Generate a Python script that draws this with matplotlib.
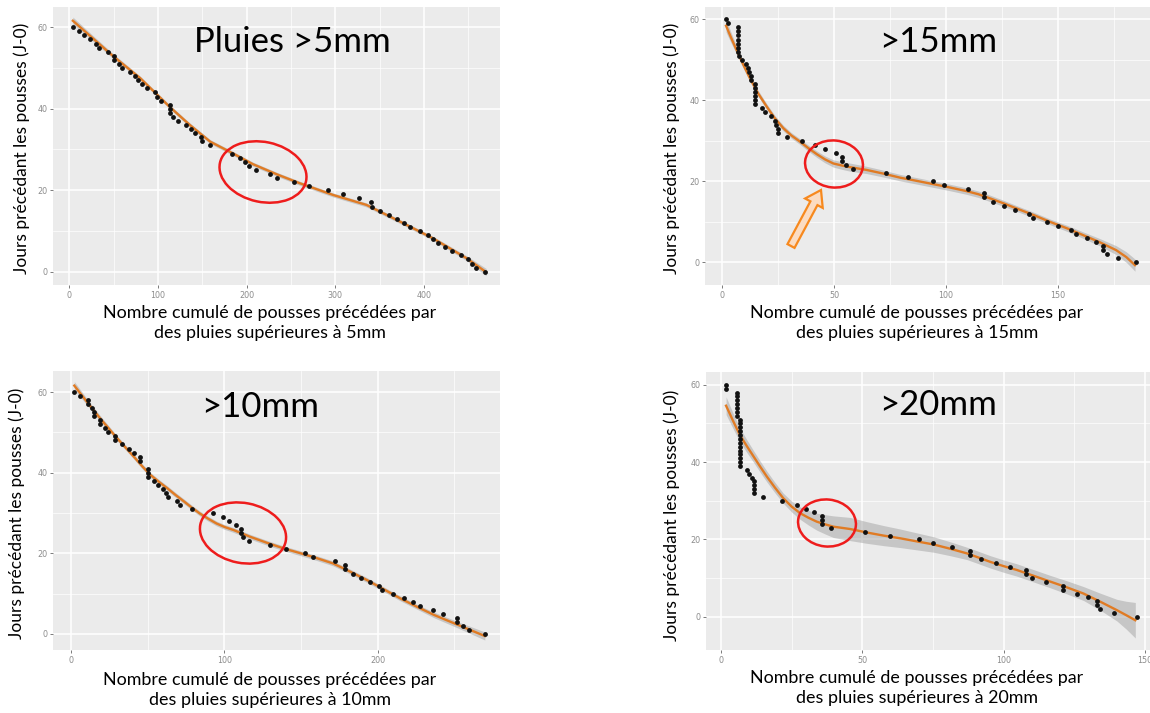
import matplotlib
matplotlib.use("Agg")
import matplotlib.pyplot as plt
from matplotlib.patches import Ellipse, FancyArrow

# --- données ----------------------------------------------------------
# >5mm
x5 = [4, 11, 17, 23, 30, 34, 44, 50, 50, 56, 59, 68, 74, 77, 82, 88, 97, 99, 103, 114,
      114, 114, 117, 123, 132, 137, 142, 148, 150, 159, 184, 192, 198, 203, 210, 226, 234, 253, 270, 292,
      309, 327, 340, 341, 350, 360, 369, 378, 384, 395, 404, 410, 416, 424, 432, 442, 450, 454, 459, 469]
y5 = [60, 59, 58, 57, 56, 55, 54, 53, 52, 51, 50, 49, 48, 47, 46, 45, 44, 43, 42, 41,
      40, 39, 38, 37, 36, 35, 34, 33, 32, 31, 29, 28, 27, 26, 25, 24, 23, 22, 21, 20,
      19, 18, 17, 16, 15, 14, 13, 12, 11, 10, 9, 8, 7, 6, 5, 4, 3, 2, 1, 0]
lx5 = [4, 27, 50, 80, 113, 136, 159, 184, 207, 234, 260, 298, 335, 373, 410, 448, 470]
ly5 = [61.6, 57.2, 52.8, 47.5, 40.5, 36, 31.9, 29.1, 26.4, 23.9, 21.7, 18.8, 16.4, 12.3, 8.2, 3.3, -0.1]
se5 = [0.9, 0.7, 0.6, 0.5, 0.5, 0.5, 0.5, 0.5, 0.5, 0.5, 0.5, 0.5, 0.5, 0.5, 0.5, 0.6, 0.9]

# >15mm
x15 = [1.8, 2.8, 7, 7, 7, 7, 7, 7, 7, 7.7, 8.8, 10.7, 11.8, 12.2, 12.9, 12.9,
       14.7, 14.7, 14.7, 14.7, 14.7, 14.7, 17.7, 19.2, 21.9, 23.7, 24.1, 24.9, 24.9, 28.9,
       35.8, 41.5, 46, 50.7, 53.7, 53.7, 55.2, 58.7, 73, 83, 94, 99, 110, 117, 117, 121, 126, 131,
       137, 139, 145, 150, 156, 158, 163, 167, 170, 170, 172, 177, 185]
y15 = list(range(60, -1, -1))
lx15 = [1.8, 4, 6.5, 9.5, 12.5, 16, 20, 23.5, 27.4, 31, 34.8, 38.5, 42.3, 46, 49.7, 53.5, 57.1,
        64.6, 72, 79.5, 87, 94.3, 101.5, 109, 114.5, 119.6, 125.5, 131.5, 139, 146.4, 154, 161.3,
        168.5, 176, 180.5, 184.4]
ly15 = [58.4, 55.5, 52.4, 48.8, 45.4, 41.8, 38.4, 35.6, 33.1, 31.3, 29.8, 28.2, 26.7, 25.4, 24.4,
        23.9, 23.5, 22.8, 21.9, 20.9, 20.1, 19.3, 18.5, 17.6, 16.8, 15.8, 14.6, 13.3, 11.7, 10,
        8.4, 6.7, 5, 3, 1.3, -0.7]
se15 = [1.6, 1.3, 1.0, 0.9, 0.8, 0.75, 0.7, 0.7, 0.7, 0.7, 0.7, 0.75, 0.8, 0.85, 0.9, 0.95, 1.0,
        0.9, 0.85, 0.8, 0.8, 0.8, 0.8, 0.8, 0.8, 0.8, 0.75, 0.7, 0.7, 0.7, 0.75, 0.8, 0.9, 1.1,
        1.3, 1.5]

# >10mm
x10 = [2, 6, 11, 11, 14, 15, 15, 19, 19, 22, 24, 29, 29, 33.5, 38, 41, 45, 45, 50, 50,
       50, 54, 57, 60, 62, 63, 69, 71, 79, 93, 99, 103, 108, 111, 111, 112, 116, 130, 140, 153,
       158, 172, 179, 179, 184, 189, 195, 201, 203, 210, 217, 223, 228, 236, 243, 252, 252, 256, 260, 270]
y10 = list(range(60, 42, -1)) + list(range(41, -1, -1))
lx10 = [2.2, 10, 19, 30, 41, 46.5, 52, 57.5, 63, 68.5, 74, 79, 84, 89.5, 95, 100.5, 106, 117, 128,
        139, 150, 160.5, 171, 182, 193, 204, 215, 226, 237, 253.5, 270]
ly10 = [61.6, 57.8, 53.5, 48.6, 44, 41.6, 39.4, 37.7, 36.1, 34.4, 32.8, 31.3, 29.9, 28.6, 27.4,
        26.5, 25.8, 24.1, 22.6, 21.2, 20, 18.8, 17.5, 15.5, 13.4, 11.1, 8.8, 6.7, 4.7, 2.1, -0.5]
se10 = [1.0, 0.8, 0.7, 0.6, 0.6, 0.6, 0.6, 0.6, 0.6, 0.6, 0.6, 0.6, 0.6, 0.6, 0.6, 0.6, 0.6, 0.6,
        0.6, 0.6, 0.6, 0.6, 0.6, 0.6, 0.6, 0.6, 0.6, 0.6, 0.7, 0.8, 1.0]

# >20mm
x20 = [1.8, 1.8, 5.8, 5.8, 5.8, 5.8, 5.8, 5.8, 5.8,
       6.8, 6.8, 6.8, 6.8, 6.8, 6.8, 6.8, 6.8, 6.8, 6.8, 6.8, 6.8, 6.8,
       9.1, 10, 10.9, 11.8, 11.8, 11.8, 11.8,
       14.8, 21.7, 26.8, 30, 32.8, 35.9, 35.9, 35.9, 39, 50.8, 59.9, 69.9, 75, 81.9, 88, 88, 92,
       97.2, 102.2, 108.1, 108.1, 110, 115, 121, 121, 126, 130, 133, 133, 134, 139, 147.2]
y20 = list(range(60, -1, -1))
lx20 = [1.8, 4.2, 6.7, 9.1, 11.5, 13.9, 16.2, 19.1, 22, 25, 28, 31, 33.9, 36.9, 39.8, 42.8, 45.7,
        51.6, 57.5, 63.4, 69.3, 75.2, 81.1, 87, 91.2, 95.3, 100, 104.7, 110.6, 116.5, 122.4,
        128.3, 134.2, 140.1, 143.4, 146.6]
ly20 = [54.6, 50.8, 47, 44.2, 41.5, 38.8, 36.3, 33.4, 30.7, 28.5, 26.8, 25.6, 24.6, 23.9, 23.3,
        23, 22.7, 21.8, 21, 20.3, 19.5, 18.7, 17.6, 16.4, 15.3, 14.2, 13.1, 12.1, 10.6, 9.1, 7.6,
        6, 3.9, 1.7, 0.4, -0.9]
se20 = [2.3, 2.0, 1.8, 1.65, 1.5, 1.45, 1.4, 1.35, 1.3, 1.4, 1.6, 1.9, 2.2, 2.5, 2.8, 2.9, 3.0,
        2.8, 2.6, 2.4, 2.2, 2.0, 1.8, 1.6, 1.6, 1.6, 1.6, 1.6, 1.6, 1.6, 1.7, 1.8, 2.2, 2.8, 3.6, 4.6]

titres = ["Pluies >5mm", ">15mm", ">10mm", ">20mm"]
seuils = ["5mm", "15mm", "10mm", "20mm"]

# --- mise en page (pixels de l'image 1150x713) --------------------------
W, H = 1150, 713
fig = plt.figure(figsize=(W / 100, H / 100), dpi=100)
fig.patch.set_facecolor("white")
police = "Lato"

def px(x, y):
    return x / W, 1 - y / H

# boite (gauche, haut, droite, bas), xlim, ylim, ticks x, ticks mineurs x
panneaux = [
    (x5, y5, lx5, ly5, se5, (53, 6.5, 500, 285), (-18.4, 485.7), (-3.27, 65.1),
     [0, 100, 200, 300, 400], [50, 150, 250, 350, 450]),
    (x15, y15, lx15, ly15, se15, (705, 6.7, 1150, 285), (-7.6, 191.1), (-5.6, 63.1),
     [0, 50, 100, 150], [25, 75, 125, 175]),
    (x10, y10, lx10, ly10, se10, (53.3, 370.7, 500, 650), (-11.5, 279.9), (-3.97, 65.3),
     [0, 100, 200], [50, 150, 250]),
    (x20, y20, lx20, ly20, se20, (706, 371.7, 1150, 650), (-5.3, 151.8), (-8.6, 63.4),
     [0, 50, 100, 150], [25, 75, 125]),
]

pos_titre = [(292, 42), (938, 42), (260, 407), (938, 405)]
pos_ylab = [(22, 148), (672, 148), (17, 513), (672, 515)]
pos_xlab = [(270, 323), (917, 323), (270, 690), (917, 688)]

for i, (xs, ys, lx, ly, se, box, xl, yl, xt, xm) in enumerate(panneaux):
    l, t, r, b = box
    ax = fig.add_axes([l / W, 1 - b / H, (r - l) / W, (b - t) / H])
    ax.set_facecolor("#EBEBEB")
    for s in ax.spines.values():
        s.set_visible(False)
    ax.set_xlim(*xl)
    ax.set_ylim(*yl)
    ax.set_xticks(xt)
    ax.set_xticks(xm, minor=True)
    ax.set_yticks([0, 20, 40, 60])
    ax.set_yticks([10, 30, 50], minor=True)
    ax.grid(which="major", color="white", lw=1.1)
    ax.grid(which="minor", color="white", lw=0.5)
    ax.set_axisbelow(True)
    ax.tick_params(which="major", length=2.5, width=0.7, color="#7a7a7a",
                   labelsize=5.8, labelcolor="#8c8c8c", pad=1.5)
    ax.tick_params(which="minor", length=0)
    lo = [a - d for a, d in zip(ly, se)]
    hi = [a + d for a, d in zip(ly, se)]
    ax.fill_between(lx, lo, hi, color="#9a9a9a", alpha=0.45, lw=0, zorder=2)
    ax.plot(lx, ly, color="#e07b24", lw=1.7, zorder=3, solid_joinstyle="round")
    ax.scatter(xs, ys, s=12, color="#111111", lw=0, zorder=4)

    tx, ty = px(*pos_titre[i])
    fig.text(tx, ty, titres[i], family=police, fontsize=25, ha="center", va="center")
    yx, yy = px(*pos_ylab[i])
    fig.text(yx, yy, "Jours précédant les pousses (J-0)", family=police, fontsize=12.5,
             rotation=90, ha="center", va="center")
    xx, xy = px(*pos_xlab[i])
    fig.text(xx, xy, "Nombre cumulé de pousses précédées par\ndes pluies supérieures à " + seuils[i],
             family=police, fontsize=12.9, ha="center", va="center", linespacing=1.3)

# --- annotations (ellipses rouges, flèche orange) ----------------------
ov = fig.add_axes([0, 0, 1, 1])
ov.set_xlim(0, W)
ov.set_ylim(H, 0)
ov.axis("off")
ov.patch.set_alpha(0)
ellipses = [((263, 172), 88, 60, 12), ((834, 164), 58, 47, 6),
            ((243, 533), 87, 60, 11), ((827, 523), 58, 47, 6)]
for c, w, h, a in ellipses:
    ov.add_patch(Ellipse(c, w, h, angle=a, fill=False, ec="#ee1c1c", lw=1.8))
ov.add_patch(FancyArrow(791, 246, 30, -56, width=8, head_width=20, head_length=15,
                        length_includes_head=True, fc="#fbdcc2", ec="#f7891e", lw=1.6))

fig.savefig("out.png", dpi=100)
